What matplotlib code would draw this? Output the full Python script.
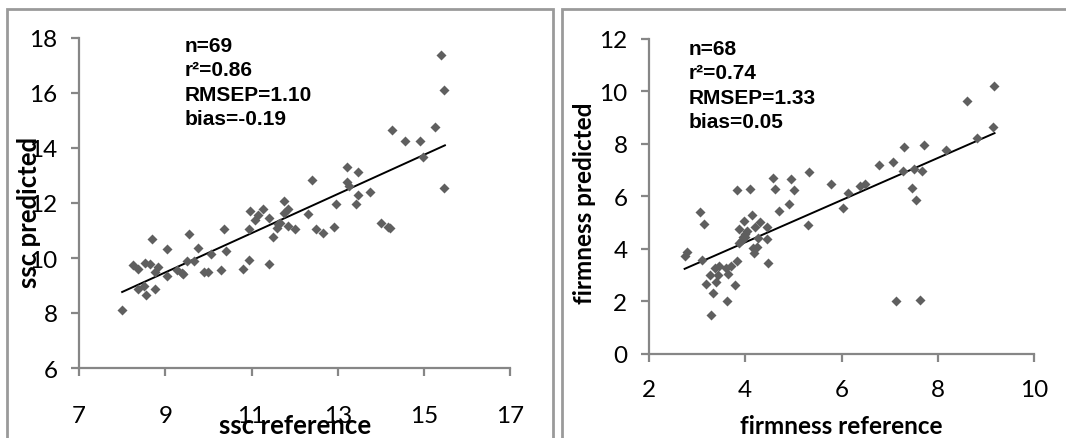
import matplotlib.pyplot as plt
from matplotlib.patches import Rectangle
import numpy as np

# ssc panel
ssc_ref = [8.00, 8.25, 8.36, 8.36, 8.50, 8.56, 8.54, 8.65, 8.70, 8.76,
           8.76, 8.84, 9.05, 9.05, 9.26, 9.39, 9.42, 9.50, 9.55, 9.66,
           9.75, 9.89, 10.00, 10.06, 10.30, 10.36, 10.40, 10.80, 10.95, 10.95,
           10.97, 11.09, 11.15, 11.26, 11.41, 11.41, 11.50, 11.60, 11.66, 11.75,
           11.76, 11.85, 11.85, 12.00, 12.31, 12.40, 12.49, 12.65, 12.90, 12.95,
           13.20, 13.20, 13.25, 13.41, 13.46, 13.46, 13.75, 14.00, 14.16, 14.21,
           14.25, 14.56, 14.90, 14.97, 15.24, 15.40, 15.46, 15.46, 11.62]
ssc_pred = [8.10, 9.76, 9.61, 8.86, 8.98, 8.65, 9.82, 9.78, 10.70, 9.49,
            8.86, 9.67, 10.34, 9.33, 9.55, 9.46, 9.42, 9.90, 10.89, 9.90,
            10.35, 9.49, 9.49, 10.15, 9.57, 11.04, 10.25, 9.60, 9.92, 11.06,
            11.70, 11.38, 11.57, 11.77, 11.46, 9.77, 10.77, 11.09, 11.28, 11.62,
            12.08, 11.78, 11.15, 11.04, 11.61, 12.82, 11.05, 10.92, 11.12, 11.98,
            13.30, 12.76, 12.61, 11.98, 13.12, 12.30, 12.41, 11.27, 11.14, 11.08,
            14.66, 14.25, 14.25, 13.67, 14.78, 17.38, 16.11, 12.56, 11.22]
ssc_fit = (0.713, 3.06)          # slope, intercept of the drawn trend line
ssc_fit_range = (8.0, 15.48)
ssc_stats = ["n=69", "r²=0.86", "RMSEP=1.10", "bias=-0.19"]

# firmness panel
firm_ref = [2.74, 2.78, 3.07, 3.14, 3.10, 3.19, 3.27, 3.28, 3.32, 3.37,
            3.40, 3.44, 3.46, 3.60, 3.63, 3.65, 3.70, 3.78, 3.82, 3.82,
            3.88, 3.88, 3.93, 3.97, 3.99, 4.03, 4.09, 4.15, 4.17, 4.19,
            4.20, 4.25, 4.26, 4.31, 4.45, 4.45, 4.48, 4.58, 4.61, 4.71,
            4.90, 4.96, 5.01, 5.30, 5.32, 5.78, 6.04, 6.14, 6.38, 6.48,
            6.77, 7.06, 7.13, 7.27, 7.29, 7.47, 7.50, 7.54, 7.63, 7.68,
            7.71, 8.17, 8.60, 8.81, 9.14, 9.16, 3.95, 4.00]
firm_pred = [3.72, 3.89, 5.38, 4.95, 3.56, 2.65, 3.00, 1.48, 2.29, 3.25,
             2.73, 2.99, 3.34, 3.28, 2.01, 3.05, 3.35, 2.63, 3.54, 6.23,
             4.75, 4.20, 4.33, 5.04, 4.43, 4.66, 6.27, 5.29, 4.03, 3.84,
             4.84, 4.08, 4.39, 5.03, 4.81, 4.37, 3.44, 6.68, 6.27, 5.44,
             5.71, 6.67, 6.25, 4.92, 6.94, 6.48, 5.54, 6.11, 6.39, 6.46,
             7.19, 7.32, 2.00, 6.95, 7.87, 6.33, 7.03, 5.84, 2.03, 6.95,
             7.95, 7.77, 9.62, 8.24, 8.66, 10.19, 4.45, 4.55]
firm_fit = (0.804, 1.027)
firm_fit_range = (2.74, 9.18)
firm_stats = ["n=68", "r²=0.74", "RMSEP=1.33", "bias=0.05"]

W, H = 1066, 439
fig = plt.figure(figsize=(W / 100, H / 100), dpi=100)

axis_grey = '#868686'
tick_font = 'Lato'

# panel frames
for x0, x1 in [(7, 553), (562, 1075)]:
    fig.patches.append(Rectangle((x0 / W, -0.05), (x1 - x0) / W, 1.05 - 9.5 / H,
                                 transform=fig.transFigure, fill=False,
                                 edgecolor='#9a9a9a', linewidth=2))


def panel(rect, xs, ys, fit, fit_range, stats, xlim, ylim, xticks, yticks,
          xlabel, ylabel, text_xy, xlabel_base, ylabel_x, ylabel_y, xpad, lsize):
    ax = fig.add_axes(rect)
    ax.scatter(xs, ys, marker='D', s=26, color='#5f5f5f', linewidths=0, zorder=3)
    fx = np.array(fit_range)
    ax.plot(fx, fit[0] * fx + fit[1], color='black', linewidth=1.4, zorder=2)
    ax.set_xlim(*xlim)
    ax.set_ylim(*ylim)
    ax.set_xticks(xticks)
    ax.set_yticks(yticks)
    for s in ['top', 'right']:
        ax.spines[s].set_visible(False)
    for s in ['left', 'bottom']:
        ax.spines[s].set_color(axis_grey)
        ax.spines[s].set_linewidth(1.6)
    ax.tick_params(direction='out', length=5.5, width=1.6, color=axis_grey,
                   labelsize=17.5, labelcolor='black')
    ax.tick_params(axis='x', pad=xpad)
    ax.tick_params(axis='y', pad=10)
    for lab in ax.get_xticklabels() + ax.get_yticklabels():
        lab.set_fontfamily(tick_font)
    fig.text(rect[0] + rect[2] / 2, 1 - xlabel_base / H, xlabel, ha='center',
             va='baseline', fontsize=lsize, fontweight='bold', family='Lato')
    fig.text(ylabel_x / W, 1 - ylabel_y / H, ylabel, ha='center', va='center',
             rotation=90, fontsize=lsize, fontweight='bold', family='Lato')
    tx, ty = text_xy
    for i, s in enumerate(stats):
        fig.text(tx / W, 1 - (ty + 24.3 * i) / H, s, ha='left', va='baseline',
                 fontsize=15, fontweight='bold', family='Liberation Sans')
    return ax


panel([79 / W, 1 - 369 / H, (510.5 - 79) / W, 330 / H],
      ssc_ref, ssc_pred, ssc_fit, ssc_fit_range, ssc_stats,
      (7, 17), (6, 18), [7, 9, 11, 13, 15, 17], [6, 8, 10, 12, 14, 16, 18],
      'ssc reference', 'ssc predicted', (185, 52), 434, 29, 212, 21, 18.5)

panel([649 / W, 1 - 354.5 / H, (1034 - 649) / W, 314.5 / H],
      firm_ref, firm_pred, firm_fit, firm_fit_range, firm_stats,
      (2, 10), (0, 12), [2, 4, 6, 8, 10], [0, 2, 4, 6, 8, 10, 12],
      'firmness reference', 'firmness predicted', (689, 55), 434, 585, 203, 13, 17.5)

fig.savefig('out.png', dpi=100)
